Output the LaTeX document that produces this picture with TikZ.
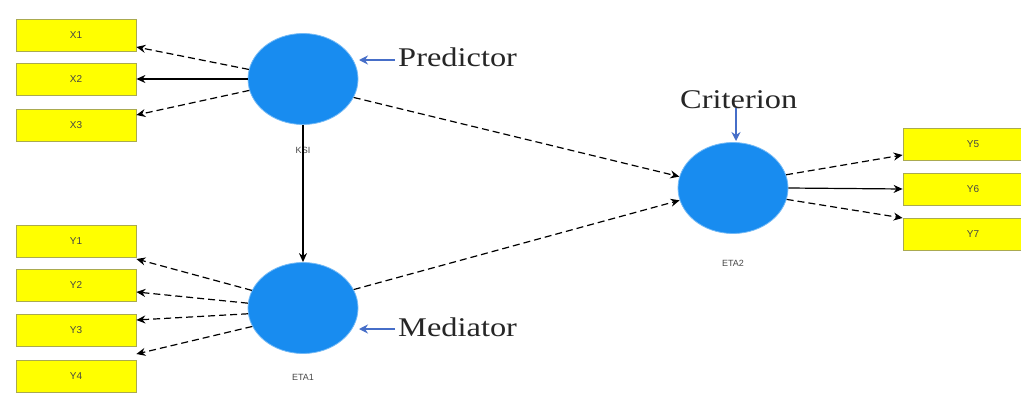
\documentclass[tikz,border=0pt]{standalone}
\usepackage{fontspec}
\setmainfont{Liberation Serif}
\newfontfamily\boxfont{Liberation Sans}
\usetikzlibrary{shapes.geometric,arrows.meta}
\definecolor{lvblue}{RGB}{24,140,240}
\definecolor{boxyellow}{RGB}{255,255,0}
\definecolor{boxedge}{RGB}{170,170,80}
\definecolor{lblblue}{RGB}{70,110,200}
\definecolor{txtgray}{RGB}{70,70,70}
\tikzset{
  mvbox/.style={draw=boxedge,line width=0.8pt,fill=boxyellow,minimum width=120pt,minimum height=32pt,inner sep=0pt,font=\boxfont\fontsize{10}{10}\selectfont,text=txtgray},
  lv/.style={ellipse,fill=lvblue,draw=lvblue!60,line width=0.8pt,minimum width=110pt,minimum height=91pt,inner sep=0pt},
  lvname/.style={font=\boxfont\fontsize{9}{9}\selectfont,text=txtgray},
  conn/.style={line width=1.2pt,-{Stealth[length=9pt,width=8pt]}},
  dconn/.style={conn,dash pattern=on 7pt off 4pt},
  tag/.style={font=\fontsize{27}{27}\selectfont,text=black!85,inner sep=0pt,anchor=base west,xscale=1.2},
  tagarrow/.style={draw=lblblue,line width=2pt,-{Stealth[length=9pt,width=9pt]}}
}
\begin{document}
\begin{tikzpicture}[x=1pt,y=-1pt]
\clip (0,0) rectangle (1021,399);
\fill[white] (0,0) rectangle (1021,399);
% indicator boxes
\node[mvbox] (x1) at (76,35) {X1};
\node[mvbox] (x2) at (76,79) {X2};
\node[mvbox] (x3) at (76,125) {X3};
\node[mvbox] (y1) at (76,241) {Y1};
\node[mvbox] (y2) at (76,285) {Y2};
\node[mvbox] (y3) at (76,330) {Y3};
\node[mvbox] (y4) at (76,376) {Y4};
\node[mvbox,minimum width=140pt] (y5) at (973,144) {Y5};
\node[mvbox,minimum width=140pt] (y6) at (973,189) {Y6};
\node[mvbox,minimum width=140pt] (y7) at (973,234) {Y7};
% latent variables
\node[lv] (ksi) at (303,79) {};
\node[lv] (eta1) at (303,308) {};
\node[lv] (eta2) at (733,188) {};
\node[lvname] (ksil) at (303,150) {KSI};
\node[lvname] (eta1l) at (303,377) {ETA1};
\node[lvname] (eta2l) at (733,263) {ETA2};
% connectors KSI -> X
\draw[dconn] (ksi.170) -- ([yshift=-12pt]x1.east);
\draw[conn] (ksi.180) -- (x2.east);
\draw[dconn] (ksi.192) -- ([yshift=10pt]x3.east);
% ETA1 -> Y
\draw[dconn] (eta1.161) -- ([yshift=-18pt]y1.east);
\draw[dconn] (eta1.175) -- ([yshift=-7pt]y2.east);
\draw[dconn] (eta1.186) -- ([yshift=10pt]y3.east);
\draw[dconn] (eta1.200) -- ([yshift=22pt]y4.east);
% ETA2 -> Y
\draw[dconn] (eta2.14) -- ([yshift=-11pt]y5.west);
\draw[conn] (eta2.0) -- (y6.west);
\draw[dconn] (eta2.-12) -- ([yshift=16pt]y7.west);
% structural paths
\draw[conn] (ksi) -- (eta1);
\draw[dconn] (ksi.-20) -- (eta2.168);
\draw[dconn] (eta1.20) -- (eta2.193);
% tags
\node[tag] (pred) at (398,66) {Predictor};
\node[tag] (med) at (398,336) {Mediator};
\node[tag] (crit) at (680,108) {Criterion};
\coordinate (predtip) at (359,60);
\coordinate (medtip) at (359,329);
\coordinate (crittip) at (736,141);
\draw[tagarrow] ([xshift=-3pt]predtip -| pred.west) -- (predtip);
\draw[tagarrow] ([xshift=-3pt]medtip -| med.west) -- (medtip);
\draw[tagarrow] (crittip |- crit.base) -- (crittip);
\end{tikzpicture}
\end{document}
